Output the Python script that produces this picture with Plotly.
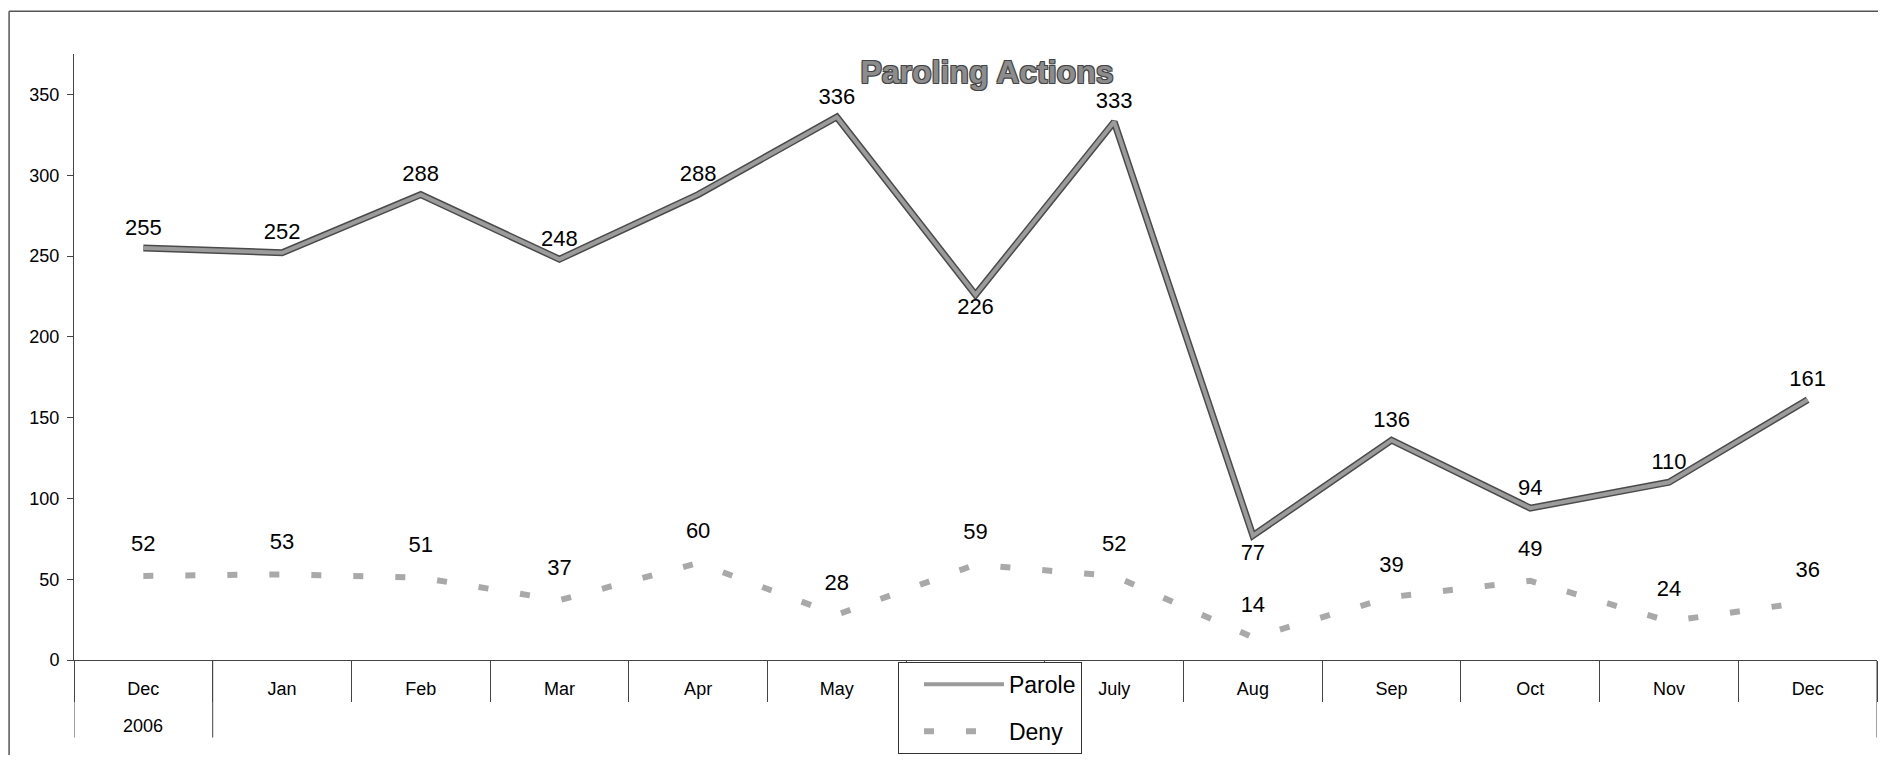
import plotly.graph_objects as go

# monthly paroling actions, Dec 2006 - Dec 2007
months = ['Dec', 'Jan', 'Feb', 'Mar', 'Apr', 'May', 'June', 'July',
          'Aug', 'Sep', 'Oct', 'Nov', 'Dec']
parole = [255, 252, 288, 248, 288, 336, 226, 333, 77, 136, 94, 110, 161]
deny = [52, 53, 51, 37, 60, 28, 59, 52, 14, 39, 49, 24, 36]
first_year = '2006'

pos = list(range(len(months)))
font = 'Liberation Sans, Arial, sans-serif'
axis_col = '#444444'
clear = 'rgba(0,0,0,0)'

fig = go.Figure()

# dark edge under the parole line
fig.add_trace(go.Scatter(
    x=pos, y=parole, mode='lines',
    line=dict(color='#4a4a4a', width=7),
    showlegend=False, hoverinfo='skip', legendgroup='p'
))
fig.add_trace(go.Scatter(
    x=pos, y=parole, mode='lines+markers+text', name='Parole',
    line=dict(color='#9b9b9b', width=4),
    # invisible markers only push the value labels off the line
    marker=dict(size=[11] * 6 + [2] + [11] * 6, color=clear,
                line=dict(width=0)),
    text=[str(v) for v in parole],
    textposition=['top center'] * 6 + ['bottom center', 'top center',
                  'bottom center'] + ['top center'] * 4,
    textfont=dict(size=22, color='black', family=font),
    legendgroup='p'
))
fig.add_trace(go.Scatter(
    x=pos, y=deny, mode='lines+markers+text', name='Deny',
    line=dict(color='#a9a9a9', width=6, dash='10px,32px'),
    marker=dict(size=30, color=clear, line=dict(width=0)),
    text=[str(v) for v in deny],
    textposition='top center',
    textfont=dict(size=22, color='black', family=font),
    legendgroup='d'
))

# long dividers around the year group, and the page frame
shapes = [
    dict(type='line', xref='x', yref='paper', x0=xv, x1=xv, y0=0, y1=-0.128,
         line=dict(color=axis_col, width=1))
    for xv in (-0.5, 0.5, pos[-1] + 0.5)
]
shapes += [
    dict(type='line', xref='paper', yref='paper', x0=-0.036, x1=1.02,
         y0=1.0707, y1=1.0707, line=dict(color='#555555', width=1.5)),
    dict(type='line', xref='paper', yref='paper', x0=-0.036, x1=-0.036,
         y0=-0.17, y1=1.0707, line=dict(color='#555555', width=1.5)),
]

fig.update_layout(
    width=1870, height=747,
    margin=dict(l=66, r=1, t=46, b=93),
    plot_bgcolor='white', paper_bgcolor='white',
    font=dict(family=font, color='black'),
    title=dict(
        text='Paroling Actions', x=0.5235, y=0.914,
        xanchor='center', yanchor='middle',
        font=dict(size=32, family=font, color='#8c8c8c', weight='bold',
                  shadow='1px 1px 0 #444, -1px -1px 0 #444, '
                         '1px -1px 0 #444, -1px 1px 0 #444')
    ),
    xaxis=dict(
        range=[-0.5, pos[-1] + 0.5],
        tickmode='array', tickvals=pos, ticktext=months,
        ticks='', ticklabelstandoff=12,
        tickfont=dict(size=18),
        showline=True, linecolor=axis_col, linewidth=1,
        showgrid=False, zeroline=False,
        minor=dict(tick0=-0.5, dtick=1, ticks='outside', ticklen=41,
                   tickcolor=axis_col, tickwidth=1, showgrid=False),
    ),
    yaxis=dict(
        range=[0, 375], tick0=0, dtick=50,
        ticks='outside', ticklen=6, tickcolor=axis_col,
        tickfont=dict(size=18), ticklabelstandoff=4,
        showline=True, linecolor=axis_col, linewidth=1,
        showgrid=False, zeroline=False,
    ),
    legend=dict(
        x=0.457, y=-0.003, xanchor='left', yanchor='top',
        bgcolor='white', bordercolor='#333333', borderwidth=1,
        font=dict(size=23), itemwidth=80, indentation=20,
        traceorder='grouped', tracegroupgap=14,
    ),
    annotations=[dict(
        text=first_year, x=0, xref='x', y=-0.1086, yref='paper',
        showarrow=False, font=dict(size=18), yanchor='middle'
    )],
    shapes=shapes,
)

fig.write_html('out.html')
